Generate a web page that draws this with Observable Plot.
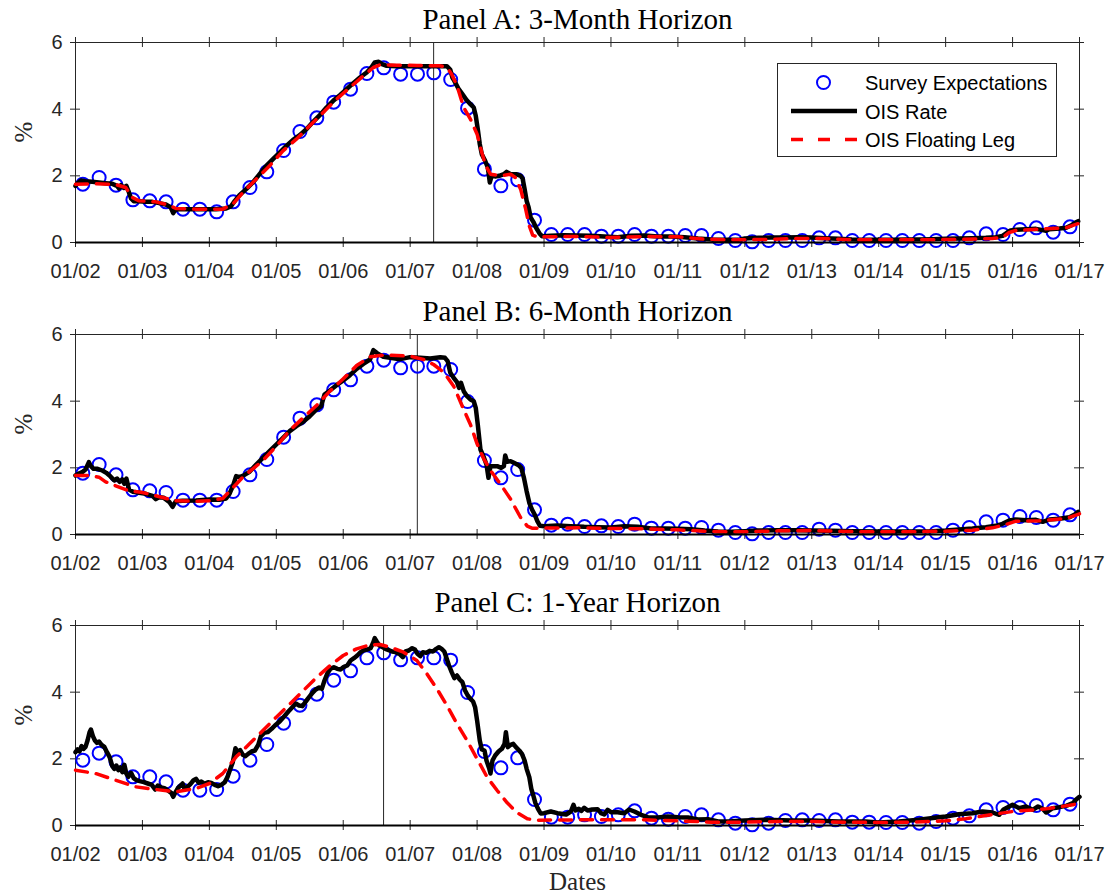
<!DOCTYPE html>
<html>
<head>
<meta charset="utf-8">
<script src="https://cdn.jsdelivr.net/npm/d3@7"></script>
<script src="https://cdn.jsdelivr.net/npm/@observablehq/plot@0.6"></script>
<style>
  body { margin: 0; background: #fff; }
  #fig { position: relative; width: 1111px; height: 896px; overflow: hidden; background: #fff; }
  #fig > svg, #fig > div { position: absolute; left: 0; }
</style>
</head>
<body>
<div id="fig"></div>
<script>
// ---- axes ----
const yearTicks = d3.range(2002, 2018);          // 01/02 ... 01/17
const yTicks = [0, 2, 4, 6];
const surveyYears = d3.range(2002, 2017);
const surveyMonths = [2, 5, 8, 11];              // survey rounds: Feb, May, Aug, Nov

const panelTitles = ["Panel A: 3-Month Horizon", "Panel B: 6-Month Horizon", "Panel C: 1-Year Horizon"];
const legendLabels = ["Survey Expectations", "OIS Rate", "OIS Floating Leg"];
const eventDates = ["2007-05-09", "2007-02-09", "2006-08-09"];

// ---- survey expectations (%), one per survey round, 2002Q1 ... 2016Q4 ----
const surveyA = [
  1.75, 1.95, 1.72, 1.28,  1.25, 1.22, 1.00, 1.00,  0.92, 1.22, 1.65, 2.12,
  2.76, 3.33, 3.74, 4.21,  4.60, 5.07, 5.24, 5.05,  5.05, 5.09, 4.89, 4.03,
  2.20, 1.70, 1.88, 0.67,  0.24, 0.24, 0.24, 0.19,  0.19, 0.24, 0.19, 0.19,
  0.21, 0.21, 0.12, 0.06,  0.02, 0.06, 0.06, 0.06,  0.14, 0.14, 0.06, 0.06,
  0.06, 0.06, 0.06, 0.06,  0.06, 0.14, 0.26, 0.24,  0.39, 0.44, 0.31, 0.47
];
const surveyB = [
  1.84, 2.10, 1.79, 1.34,  1.31, 1.26, 1.03, 1.03,  1.03, 1.29, 1.79, 2.25,
  2.92, 3.49, 3.89, 4.34,  4.64, 5.05, 5.23, 5.00,  5.05, 5.05, 4.95, 3.99,
  2.22, 1.70, 1.95, 0.74,  0.28, 0.31, 0.24, 0.26,  0.24, 0.31, 0.19, 0.19,
  0.19, 0.21, 0.13, 0.06,  0.02, 0.06, 0.06, 0.06,  0.16, 0.13, 0.06, 0.06,
  0.06, 0.06, 0.06, 0.06,  0.13, 0.21, 0.38, 0.43,  0.54, 0.51, 0.43, 0.59
];
const surveyC = [
  1.96, 2.17, 1.91, 1.46,  1.46, 1.31, 1.06, 1.06,  1.08, 1.48, 1.96, 2.43,
  3.07, 3.61, 3.94, 4.36,  4.64, 5.03, 5.18, 4.97,  5.03, 5.03, 4.96, 3.99,
  2.22, 1.73, 2.03, 0.78,  0.25, 0.25, 0.32, 0.27,  0.32, 0.44, 0.22, 0.19,
  0.27, 0.32, 0.17, 0.07,  0.02, 0.07, 0.15, 0.17,  0.15, 0.17, 0.10, 0.10,
  0.09, 0.09, 0.07, 0.12,  0.22, 0.29, 0.47, 0.54,  0.54, 0.60, 0.47, 0.64
];

// ---- OIS rate (%), [year, value] ----
const oisRateA = [
  [2002.00,1.70],[2002.03,1.78],[2002.08,1.86],[2002.15,1.84],[2002.25,1.82],[2002.35,1.80],[2002.45,1.78],
  [2002.55,1.76],[2002.62,1.70],[2002.65,1.62],[2002.68,1.72],[2002.72,1.64],[2002.76,1.70],[2002.79,1.55],
  [2002.83,1.32],[2002.87,1.24],[2002.95,1.24],[2003.05,1.22],[2003.15,1.22],[2003.25,1.18],[2003.35,1.14],
  [2003.42,1.06],[2003.46,0.88],[2003.49,0.98],[2003.55,1.00],[2003.70,1.00],[2003.90,1.00],[2004.10,1.00],
  [2004.25,1.02],[2004.32,1.08],[2004.38,1.25],[2004.45,1.42],[2004.55,1.60],[2004.65,1.80],[2004.75,2.05],
  [2004.85,2.30],[2004.95,2.50],[2005.05,2.70],[2005.15,2.90],[2005.25,3.08],[2005.35,3.22],[2005.45,3.40],
  [2005.55,3.62],[2005.65,3.82],[2005.75,4.05],[2005.85,4.25],[2005.95,4.42],[2006.05,4.60],[2006.15,4.78],
  [2006.25,4.95],[2006.35,5.10],[2006.42,5.25],[2006.47,5.40],[2006.53,5.42],[2006.58,5.35],[2006.65,5.30],
  [2006.80,5.29],[2007.00,5.29],[2007.20,5.29],[2007.40,5.29],[2007.55,5.29],[2007.60,5.18],[2007.63,4.95],
  [2007.66,4.85],[2007.72,4.62],[2007.78,4.45],[2007.84,4.28],[2007.90,4.15],[2007.95,4.05],[2007.98,3.80],
  [2008.01,3.40],[2008.04,2.95],[2008.07,2.65],[2008.12,2.45],[2008.16,2.25],[2008.19,1.80],[2008.22,2.02],
  [2008.27,1.98],[2008.33,2.00],[2008.40,2.05],[2008.44,2.12],[2008.50,2.05],[2008.58,2.05],[2008.65,2.00],
  [2008.68,1.92],[2008.71,1.60],[2008.74,1.25],[2008.77,1.05],[2008.80,0.75],[2008.84,0.62],[2008.88,0.45],
  [2008.93,0.28],[2008.97,0.19],[2009.10,0.20],[2009.30,0.22],[2009.50,0.21],[2009.70,0.20],[2009.90,0.18],
  [2010.10,0.16],[2010.30,0.20],[2010.50,0.21],[2010.70,0.18],[2010.90,0.18],[2011.10,0.16],[2011.30,0.12],
  [2011.50,0.09],[2011.70,0.08],[2011.90,0.08],[2012.00,0.12],[2012.20,0.14],[2012.40,0.15],[2012.60,0.15],
  [2012.80,0.16],[2013.00,0.15],[2013.20,0.13],[2013.40,0.11],[2013.60,0.09],[2013.80,0.08],[2014.00,0.08],
  [2014.20,0.08],[2014.40,0.09],[2014.60,0.09],[2014.80,0.10],[2015.00,0.11],[2015.20,0.12],[2015.40,0.13],
  [2015.60,0.14],[2015.75,0.16],[2015.85,0.20],[2015.92,0.30],[2015.97,0.36],[2016.05,0.38],[2016.20,0.40],
  [2016.35,0.41],[2016.45,0.37],[2016.50,0.35],[2016.55,0.40],[2016.70,0.42],[2016.80,0.44],[2016.88,0.52],
  [2016.94,0.60],[2016.98,0.64]
];
const oisRateB = [
  [2002.00,1.77],[2002.04,1.82],[2002.10,1.87],[2002.15,1.95],[2002.20,2.17],[2002.23,2.05],[2002.27,1.97],
  [2002.33,1.97],[2002.40,1.92],[2002.46,1.85],[2002.52,1.75],[2002.58,1.62],[2002.62,1.68],[2002.66,1.58],
  [2002.70,1.65],[2002.73,1.52],[2002.76,1.68],[2002.80,1.35],[2002.86,1.28],[2002.95,1.25],[2003.05,1.22],
  [2003.15,1.16],[2003.20,1.06],[2003.25,1.12],[2003.32,1.10],[2003.40,0.98],[2003.45,0.83],[2003.50,1.00],
  [2003.60,1.01],[2003.80,1.02],[2004.00,1.05],[2004.15,1.04],[2004.25,1.08],[2004.30,1.22],[2004.36,1.50],
  [2004.40,1.75],[2004.45,1.72],[2004.50,1.76],[2004.60,1.88],[2004.70,2.10],[2004.80,2.30],[2004.90,2.50],
  [2005.00,2.70],[2005.10,2.90],[2005.20,3.10],[2005.30,3.25],[2005.40,3.38],[2005.50,3.55],[2005.60,3.75],
  [2005.67,3.85],[2005.72,4.20],[2005.80,4.32],[2005.90,4.48],[2006.00,4.62],[2006.10,4.78],[2006.20,4.97],
  [2006.30,5.12],[2006.40,5.25],[2006.45,5.53],[2006.50,5.45],[2006.60,5.33],[2006.70,5.30],[2006.85,5.26],
  [2007.00,5.32],[2007.15,5.30],[2007.30,5.28],[2007.45,5.32],[2007.52,5.30],[2007.56,5.20],[2007.60,4.85],
  [2007.65,4.70],[2007.70,4.57],[2007.73,4.40],[2007.76,4.55],[2007.80,4.30],[2007.85,4.15],[2007.90,4.05],
  [2007.95,4.00],[2007.98,3.80],[2008.01,3.30],[2008.05,2.55],[2008.10,2.32],[2008.14,2.10],[2008.17,1.70],
  [2008.20,2.05],[2008.25,2.05],[2008.30,2.05],[2008.36,2.00],[2008.40,2.05],[2008.42,2.37],[2008.45,2.18],
  [2008.50,2.20],[2008.55,2.15],[2008.62,2.08],[2008.66,2.00],[2008.70,1.70],[2008.74,1.30],[2008.78,0.95],
  [2008.82,0.75],[2008.86,0.60],[2008.90,0.40],[2008.94,0.26],[2009.00,0.25],[2009.20,0.27],[2009.40,0.25],
  [2009.60,0.23],[2009.80,0.22],[2010.00,0.21],[2010.20,0.25],[2010.40,0.23],[2010.60,0.18],[2010.80,0.18],
  [2011.00,0.17],[2011.20,0.16],[2011.40,0.12],[2011.60,0.09],[2011.80,0.08],[2012.00,0.10],[2012.20,0.12],
  [2012.50,0.13],[2012.80,0.13],[2013.00,0.12],[2013.30,0.11],[2013.60,0.10],[2014.00,0.09],[2014.40,0.09],
  [2014.80,0.10],[2015.00,0.12],[2015.20,0.15],[2015.40,0.18],[2015.60,0.22],[2015.75,0.26],[2015.85,0.32],
  [2015.95,0.42],[2016.05,0.45],[2016.20,0.43],[2016.35,0.44],[2016.45,0.38],[2016.55,0.45],[2016.70,0.47],
  [2016.85,0.52],[2016.93,0.60],[2016.98,0.68]
];
const oisRateC = [
  [2002.00,2.20],[2002.03,2.28],[2002.06,2.22],[2002.09,2.38],[2002.12,2.30],[2002.15,2.36],[2002.18,2.55],
  [2002.21,2.80],[2002.23,2.88],[2002.26,2.68],[2002.29,2.55],[2002.32,2.48],[2002.35,2.52],[2002.39,2.42],
  [2002.43,2.36],[2002.47,2.20],[2002.51,2.05],[2002.55,1.78],[2002.58,1.70],[2002.61,1.80],[2002.64,1.66],
  [2002.67,1.74],[2002.70,1.60],[2002.73,1.82],[2002.76,1.55],[2002.79,1.46],[2002.83,1.58],[2002.87,1.42],
  [2002.91,1.36],[2002.96,1.33],[2003.02,1.30],[2003.08,1.26],[2003.14,1.22],[2003.19,1.08],[2003.23,1.20],
  [2003.28,1.14],[2003.33,1.12],[2003.38,1.05],[2003.43,0.98],[2003.46,0.86],[2003.49,0.98],[2003.53,1.12],
  [2003.57,1.20],[2003.60,1.26],[2003.63,1.10],[2003.67,1.15],[2003.72,1.25],[2003.76,1.35],[2003.80,1.40],
  [2003.84,1.28],[2003.88,1.32],[2003.93,1.25],[2003.98,1.30],[2004.03,1.28],[2004.08,1.22],[2004.13,1.18],
  [2004.18,1.22],[2004.23,1.30],[2004.27,1.45],[2004.31,1.68],[2004.35,1.90],[2004.39,2.32],[2004.42,2.20],
  [2004.46,2.26],[2004.50,2.12],[2004.54,2.08],[2004.58,2.15],[2004.63,2.22],[2004.68,2.25],[2004.73,2.42],
  [2004.77,2.68],[2004.82,2.78],[2004.87,2.80],[2004.93,2.90],[2004.98,3.00],[2005.05,3.12],[2005.12,3.28],
  [2005.18,3.42],[2005.24,3.55],[2005.29,3.66],[2005.34,3.60],[2005.39,3.58],[2005.44,3.72],[2005.49,3.85],
  [2005.54,3.98],[2005.59,4.08],[2005.64,4.14],[2005.68,4.10],[2005.72,4.35],[2005.76,4.55],[2005.81,4.70],
  [2005.86,4.75],[2005.91,4.70],[2005.96,4.68],[2006.01,4.76],[2006.06,4.80],[2006.11,4.95],[2006.16,5.02],
  [2006.21,5.10],[2006.26,5.20],[2006.31,5.26],[2006.36,5.28],[2006.41,5.32],[2006.45,5.50],[2006.47,5.62],
  [2006.50,5.52],[2006.54,5.40],[2006.58,5.36],[2006.63,5.30],[2006.68,5.26],[2006.73,5.22],[2006.78,5.20],
  [2006.84,5.15],[2006.89,5.05],[2006.93,5.22],[2006.98,5.25],[2007.03,5.32],[2007.07,5.28],[2007.11,5.15],
  [2007.15,5.08],[2007.19,5.20],[2007.24,5.18],[2007.29,5.24],[2007.34,5.22],[2007.39,5.30],[2007.43,5.35],
  [2007.47,5.30],[2007.51,5.22],[2007.55,4.98],[2007.58,4.80],[2007.62,4.60],[2007.66,4.42],[2007.70,4.50],
  [2007.74,4.38],[2007.78,4.30],[2007.82,4.05],[2007.86,3.90],[2007.90,3.80],[2007.94,3.72],[2007.97,3.55],
  [2008.00,3.15],[2008.04,2.55],[2008.07,2.28],[2008.11,2.25],[2008.14,1.95],[2008.18,1.72],[2008.20,1.56],
  [2008.23,1.95],[2008.27,2.10],[2008.32,2.22],[2008.37,2.30],[2008.41,2.45],[2008.43,2.80],[2008.46,2.35],
  [2008.50,2.42],[2008.54,2.45],[2008.58,2.35],[2008.63,2.25],[2008.67,2.15],[2008.71,1.95],[2008.74,1.70],
  [2008.78,1.45],[2008.81,1.10],[2008.84,0.90],[2008.87,0.68],[2008.91,0.50],[2008.95,0.36],[2009.00,0.37],
  [2009.10,0.42],[2009.20,0.37],[2009.33,0.33],[2009.40,0.42],[2009.44,0.62],[2009.47,0.45],[2009.52,0.50],
  [2009.56,0.44],[2009.60,0.53],[2009.65,0.45],[2009.72,0.48],[2009.80,0.49],[2009.85,0.37],[2009.90,0.33],
  [2009.95,0.47],[2010.00,0.40],[2010.10,0.40],[2010.20,0.37],[2010.27,0.48],[2010.35,0.42],[2010.45,0.32],
  [2010.55,0.25],[2010.70,0.24],[2010.85,0.27],[2011.00,0.25],[2011.15,0.24],[2011.30,0.18],[2011.45,0.19],
  [2011.60,0.12],[2011.80,0.13],[2012.00,0.15],[2012.30,0.17],[2012.70,0.15],[2013.00,0.15],[2013.40,0.12],
  [2013.80,0.12],[2014.00,0.09],[2014.30,0.12],[2014.60,0.17],[2014.90,0.25],[2015.00,0.27],[2015.20,0.34],
  [2015.40,0.37],[2015.55,0.42],[2015.70,0.39],[2015.80,0.32],[2015.86,0.47],[2015.95,0.57],[2016.00,0.62],
  [2016.10,0.52],[2016.20,0.57],[2016.30,0.47],[2016.38,0.57],[2016.45,0.50],[2016.50,0.39],[2016.60,0.52],
  [2016.70,0.55],[2016.80,0.59],[2016.90,0.67],[2016.95,0.78],[2017.00,0.86]
];

// ---- OIS floating leg (%), [year, value] ----
const floatLegA = [
  [2002.00,1.75],[2002.30,1.76],[2002.60,1.74],[2002.75,1.65],[2002.85,1.35],[2002.95,1.25],[2003.20,1.22],
  [2003.40,1.12],[2003.50,1.02],[2003.80,1.00],[2004.20,1.00],[2004.35,1.15],[2004.50,1.50],[2004.70,1.90],
  [2004.90,2.30],[2005.10,2.75],[2005.30,3.10],[2005.50,3.50],[2005.70,3.90],[2005.90,4.30],[2006.10,4.65],
  [2006.30,5.00],[2006.45,5.25],[2006.55,5.33],[2006.80,5.32],[2007.10,5.31],[2007.45,5.30],[2007.55,5.25],
  [2007.62,5.05],[2007.70,4.70],[2007.80,4.05],[2007.90,3.70],[2008.00,3.25],[2008.07,2.70],[2008.13,2.30],
  [2008.20,2.05],[2008.35,2.00],[2008.50,2.05],[2008.57,1.95],[2008.65,1.60],[2008.72,1.05],[2008.78,0.50],
  [2008.83,0.22],[2008.90,0.17],[2009.50,0.18],[2010.00,0.15],[2010.50,0.18],[2011.00,0.17],[2011.40,0.10],
  [2011.80,0.08],[2012.30,0.09],[2012.80,0.12],[2013.20,0.12],[2013.60,0.08],[2014.50,0.08],[2015.20,0.09],
  [2015.70,0.12],[2015.85,0.15],[2015.95,0.30],[2016.05,0.36],[2016.40,0.40],[2016.80,0.44],[2017.00,0.58]
];
const floatLegB = [
  [2002.00,1.77],[2002.20,1.77],[2002.35,1.72],[2002.45,1.58],[2002.60,1.46],[2002.80,1.31],[2003.00,1.26],
  [2003.30,1.11],[2003.50,1.01],[2003.80,1.00],[2004.00,1.01],[2004.20,1.08],[2004.35,1.40],[2004.50,1.72],
  [2004.80,2.22],[2005.00,2.65],[2005.20,3.12],[2005.40,3.50],[2005.60,3.87],[2005.80,4.30],[2006.00,4.67],
  [2006.20,5.07],[2006.40,5.33],[2006.60,5.38],[2006.80,5.37],[2007.00,5.35],[2007.20,5.25],[2007.35,5.10],
  [2007.50,4.87],[2007.65,4.45],[2007.80,3.75],[2007.90,3.30],[2008.00,2.72],[2008.10,2.27],[2008.20,1.92],
  [2008.35,1.51],[2008.50,1.06],[2008.65,0.51],[2008.75,0.25],[2008.82,0.19],[2009.50,0.20],[2010.00,0.18],
  [2010.50,0.17],[2011.00,0.14],[2011.50,0.09],[2012.00,0.08],[2012.50,0.11],[2013.00,0.12],[2013.50,0.09],
  [2014.00,0.08],[2014.50,0.08],[2015.00,0.10],[2015.40,0.13],[2015.70,0.20],[2015.90,0.30],[2016.05,0.40],
  [2016.40,0.41],[2016.80,0.48],[2017.00,0.62]
];
const floatLegC = [
  [2002.00,1.66],[2002.30,1.56],[2002.60,1.36],[2002.90,1.16],[2003.20,1.08],[2003.50,1.01],[2003.80,1.11],
  [2004.00,1.26],[2004.20,1.56],[2004.40,2.06],[2004.60,2.45],[2004.80,2.85],[2005.00,3.25],[2005.20,3.64],
  [2005.40,4.04],[2005.60,4.44],[2005.80,4.79],[2006.00,5.10],[2006.20,5.30],[2006.40,5.42],[2006.55,5.43],
  [2006.70,5.35],[2006.90,5.20],[2007.10,4.95],[2007.25,4.55],[2007.40,4.10],[2007.55,3.60],[2007.70,3.05],
  [2007.85,2.55],[2008.00,2.00],[2008.15,1.45],[2008.30,1.05],[2008.45,0.68],[2008.60,0.38],[2008.75,0.20],
  [2008.90,0.16],[2009.50,0.17],[2010.00,0.17],[2010.50,0.17],[2011.00,0.14],[2011.50,0.10],[2012.00,0.10],
  [2012.50,0.12],[2013.00,0.12],[2013.50,0.10],[2014.00,0.09],[2014.50,0.10],[2015.00,0.14],[2015.30,0.20],
  [2015.60,0.30],[2016.00,0.42],[2016.50,0.50],[2016.90,0.62],[2017.00,0.68]
];

// ---- helpers ----
function decimalYear(date) {
  const y = date.getUTCFullYear();
  const start = Date.UTC(y, 0, 1), end = Date.UTC(y + 1, 0, 1);
  return y + (date.getTime() - start) / (end - start);
}
const surveyTimes = surveyYears.flatMap(y => surveyMonths.map(m => decimalYear(new Date(Date.UTC(y, m - 1, 10)))));
const eventTimes = eventDates.map(s => decimalYear(new Date(s + "T00:00:00Z")));

const SANS = "'Liberation Sans', Arial, Helvetica, sans-serif";
const SERIF = "'Liberation Serif', 'Times New Roman', serif";
const AXIS = "#262626";
const xDomain = [yearTicks[0], yearTicks[yearTicks.length - 1]];
const yDomain = [yTicks[0], yTicks[yTicks.length - 1]];

function panel({title, survey, rate, leg, event, top, height, marginTop, marginBottom, xLabel}) {
  const pts = survey.map((v, i) => ({t: surveyTimes[i], v}));
  const marks = [
    Plot.frame({stroke: AXIS, strokeWidth: 1}),
    Plot.ruleX([event], {stroke: AXIS, strokeWidth: 1}),
    // tick marks crossing each side of the box
    Plot.ruleX(yearTicks, {x: d => d, y1: yDomain[0], y2: yDomain[0], insetTop: -5, insetBottom: -5, stroke: AXIS}),
    Plot.ruleX(yearTicks, {x: d => d, y1: yDomain[1], y2: yDomain[1], insetTop: -5, insetBottom: -5, stroke: AXIS}),
    Plot.ruleY(yTicks, {y: d => d, x1: xDomain[0], x2: xDomain[0], insetLeft: -5, insetRight: -5, stroke: AXIS}),
    Plot.ruleY(yTicks, {y: d => d, x1: xDomain[1], x2: xDomain[1], insetLeft: -5, insetRight: -5, stroke: AXIS}),
    Plot.dot(pts, {x: "t", y: "v", r: 6.5, stroke: "#0000ff", strokeWidth: 2, fill: "none"}),
    Plot.line(rate, {x: d => d[0], y: d => d[1], stroke: "#000", strokeWidth: 4.5, strokeLinejoin: "round"}),
    Plot.line(leg, {x: d => d[0], y: d => d[1], stroke: "#ff0000", strokeWidth: 3.5, strokeDasharray: "12,9"}),
    Plot.ruleY([0], {stroke: "#000", strokeWidth: 2}),
    Plot.axisX({ticks: yearTicks, tickFormat: d => "01/" + String(d).slice(2), tickSize: 0, tickPadding: 21,
                fontSize: 20, label: null}),
    Plot.axisY({ticks: yTicks, tickFormat: d => String(d), tickSize: 0, tickPadding: 13, fontSize: 20, label: null}),
    Plot.text([title], {text: d => d, frameAnchor: "top", dy: -14, lineAnchor: "bottom",
                        fontSize: 29, fontFamily: SERIF, fill: "#000"}),
    Plot.text(["%"], {text: d => d, frameAnchor: "left", dx: -52, rotate: -90,
                      fontSize: 25, fontFamily: SERIF, fill: "#262626"})
  ];
  if (xLabel) {
    marks.push(Plot.text([xLabel], {text: d => d, frameAnchor: "bottom", dy: 64, lineAnchor: "bottom",
                                    fontSize: 25, fontFamily: SERIF, fill: "#262626"}));
  }
  const chart = Plot.plot({
    width: 1111, height,
    marginLeft: 75, marginRight: 32, marginTop, marginBottom,
    x: {domain: xDomain},
    y: {domain: yDomain},
    style: {fontFamily: SANS, fontSize: "20px", color: AXIS, background: "transparent", overflow: "visible"},
    marks
  });
  chart.style.top = top + "px";
  return chart;
}

const fig = document.getElementById("fig");
fig.append(panel({title: panelTitles[0], survey: surveyA, rate: oisRateA, leg: floatLegA, event: eventTimes[0],
                  top: 0, height: 290, marginTop: 42, marginBottom: 48}));
fig.append(panel({title: panelTitles[1], survey: surveyB, rate: oisRateB, leg: floatLegB, event: eventTimes[1],
                  top: 292, height: 290, marginTop: 42, marginBottom: 48}));
fig.append(panel({title: panelTitles[2], survey: surveyC, rate: oisRateC, leg: floatLegC, event: eventTimes[2],
                  top: 582, height: 314, marginTop: 43, marginBottom: 71, xLabel: "Dates"}));

// ---- legend box in the upper right of Panel A ----
const lg = d3.select(fig).append("svg")
  .attr("width", 1111).attr("height", 896)
  .style("position", "absolute").style("top", "0px").style("left", "0px")
  .style("pointer-events", "none");
const box = {x: 777.5, y: 63.5, w: 279, h: 93};
lg.append("rect").attr("x", box.x).attr("y", box.y).attr("width", box.w).attr("height", box.h)
  .attr("fill", "#fff").attr("stroke", AXIS).attr("stroke-width", 1);
const rowY = [82.5, 111, 139.5];
const sx0 = 791, sx1 = 857, textX = 865;
lg.append("circle").attr("cx", (sx0 + sx1) / 2 - 0.5).attr("cy", rowY[0]).attr("r", 6.5)
  .attr("fill", "none").attr("stroke", "#0000ff").attr("stroke-width", 2);
lg.append("line").attr("x1", sx0).attr("x2", sx1).attr("y1", rowY[1]).attr("y2", rowY[1])
  .attr("stroke", "#000").attr("stroke-width", 4.5);
lg.append("line").attr("x1", sx0).attr("x2", sx1).attr("y1", rowY[2]).attr("y2", rowY[2])
  .attr("stroke", "#ff0000").attr("stroke-width", 3.5).attr("stroke-dasharray", "12,15");
lg.selectAll("text.lab").data(legendLabels).join("text")
  .attr("class", "lab")
  .attr("x", textX).attr("y", (d, i) => rowY[i] + 7.5)
  .attr("font-family", SANS).attr("font-size", 20).attr("fill", "#000")
  .text(d => d);
</script>
</body>
</html>
